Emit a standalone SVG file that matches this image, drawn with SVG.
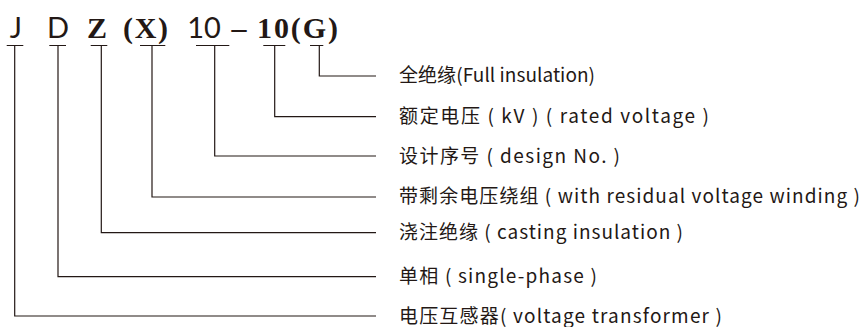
<svg xmlns="http://www.w3.org/2000/svg" width="867" height="327" viewBox="0 0 867 327">
<style>
.lt{font-family:Lato,"Noto Sans","Liberation Sans",sans-serif;font-weight:400;font-size:29px;fill:#231815;text-anchor:middle}
.bs{font-family:"Liberation Serif",serif;font-weight:bold;font-size:30px;fill:#231815}
.lbl{font-family:"Noto Sans CJK SC","Noto Sans",sans-serif;font-size:19px;fill:#231815}
.ln{fill:none;stroke:#231815;stroke-width:1.2}
</style>
<rect width="867" height="327" fill="#fff"/>
<g id="code">
<text class="lt" x="16" y="38">J</text>
<text class="lt" x="58" y="38">D</text>
<text class="bs" x="97" y="38" text-anchor="middle">Z</text>
<text class="bs" x="123" y="38" textLength="45">(X)</text>
<text class="lt" x="204" y="38">10</text>
<text class="bs" x="239" y="38" text-anchor="middle">–</text>
<text class="bs" x="257" y="38" textLength="81">10(G)</text>
</g>
<g id="connectors">
<path class="ln" d="M6.7 45.5H23.3M14.7 45.5V316H376"/>
<path class="ln" d="M49.3 45.5H66M58 45.5V276.7H376"/>
<path class="ln" d="M90.7 45.5H107.3M101.3 45.5V232.7H376"/>
<path class="ln" d="M140 45.5H165.3M152 45.5V197H376"/>
<path class="ln" d="M196 45.5H229.3M214.7 45.5V156H376"/>
<path class="ln" d="M263.3 45.5H285.3M274.7 45.5V116.7H376"/>
<path class="ln" d="M310 45.5H323.3M319.3 45.5V76H376"/>
</g>
<g id="label-G"><text class="lbl" x="399" y="82" textLength="196">全绝缘(Full insulation)</text></g>
<g id="label-10b"><text class="lbl" x="399" y="123" textLength="310">额定电压 ( kV ) ( rated voltage )</text></g>
<g id="label-10"><text class="lbl" x="399" y="162.5" textLength="221">设计序号 ( design No. )</text></g>
<g id="label-X"><text class="lbl" x="399" y="203" textLength="461">带剩余电压绕组 ( with residual voltage winding )</text></g>
<g id="label-Z"><text class="lbl" x="399" y="239" textLength="284">浇注绝缘 ( casting insulation )</text></g>
<g id="label-D"><text class="lbl" x="399" y="283" textLength="198">单相 ( single-phase )</text></g>
<g id="label-J"><text class="lbl" x="399" y="322.5" textLength="323">电压互感器( voltage transformer )</text></g>
</svg>
